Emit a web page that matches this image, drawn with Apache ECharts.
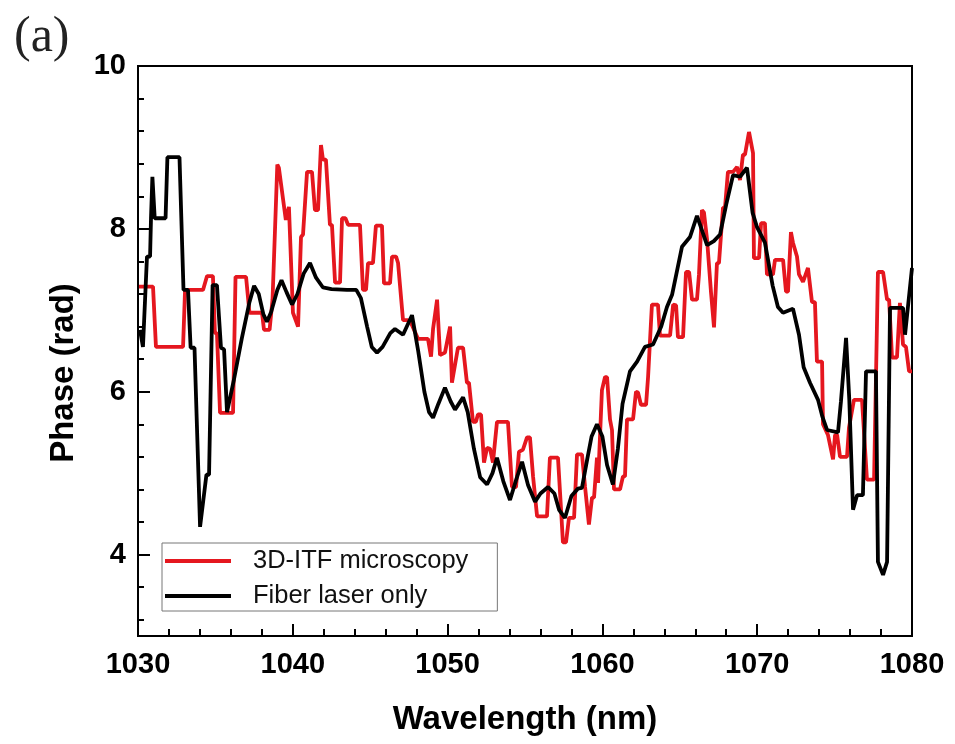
<!DOCTYPE html>
<html>
<head>
<meta charset="utf-8">
<script src="https://cdn.jsdelivr.net/npm/echarts@6/dist/echarts.min.js"></script>
<style>
html,body{margin:0;padding:0;background:#fff;}
#chart{width:955px;height:744px;}
</style>
</head>
<body>
<div id="chart"></div>
<script>
const panelLabel = '(a)';
const xName = 'Wavelength (nm)';
const yName = 'Phase (rad)';
const seriesNames = ['3D-ITF microscopy', 'Fiber laser only'];
const xTicks = [1030, 1040, 1050, 1060, 1070, 1080];
const yTickLabels = [4, 6, 8, 10];

const redX = [1030.06,1030.97,1031.16,1032.91,1033.04,1034.20,1034.46,1034.84,1034.97,1035.10,1035.30,1036.14,1036.30,1036.98,1037.20,1038.01,1038.14,1038.50,1038.69,1039.00,1039.10,1039.55,1039.75,1040.01,1040.34,1040.53,1040.66,1040.92,1041.24,1041.43,1041.63,1041.82,1041.95,1042.14,1042.40,1042.53,1042.73,1043.05,1043.18,1043.40,1043.57,1044.34,1044.53,1044.73,1044.86,1045.18,1045.37,1045.76,1045.89,1046.28,1046.41,1046.67,1046.80,1047.12,1047.38,1047.60,1048.09,1048.73,1048.93,1049.06,1049.32,1049.51,1049.83,1050.16,1050.28,1050.67,1051.00,1051.25,1051.38,1051.64,1051.83,1051.96,1052.16,1052.35,1052.55,1052.74,1052.93,1053.19,1053.90,1054.16,1054.42,1054.61,1054.87,1055.13,1055.32,1055.52,1055.78,1056.42,1056.61,1057.13,1057.33,1057.45,1057.65,1057.84,1058.17,1058.36,1058.68,1058.88,1059.13,1059.33,1059.46,1059.65,1059.72,1059.97,1060.17,1060.30,1060.49,1060.62,1060.75,1061.14,1061.33,1061.46,1061.59,1061.98,1062.17,1062.30,1062.49,1062.82,1062.95,1063.20,1063.59,1063.72,1064.37,1064.57,1064.76,1064.88,1065.21,1065.40,1065.60,1065.79,1066.11,1066.24,1066.43,1066.56,1066.76,1067.02,1067.21,1067.40,1067.53,1067.79,1067.92,1068.11,1068.44,1068.70,1068.89,1069.08,1069.21,1069.47,1069.73,1069.79,1070.12,1070.25,1070.50,1070.63,1071.02,1071.15,1071.67,1071.86,1071.99,1072.18,1072.31,1072.57,1072.70,1072.96,1073.28,1073.54,1073.73,1073.86,1074.19,1074.25,1074.57,1074.90,1075.03,1075.16,1075.35,1075.80,1075.93,1076.25,1076.77,1077.09,1077.55,1077.80,1078.13,1078.39,1078.52,1078.71,1079.03,1079.22,1079.42,1079.61,1079.81,1080.00];
const redY = [7.29,7.29,6.55,6.55,7.25,7.25,7.42,7.42,6.72,6.72,5.74,5.74,7.41,7.41,6.97,6.97,6.76,6.76,7.13,8.79,8.75,8.11,8.27,6.97,6.80,7.90,7.93,8.70,8.70,8.23,8.23,9.03,8.85,8.85,8.05,8.05,7.34,7.34,8.13,8.13,8.05,8.05,7.25,7.25,7.58,7.58,8.04,8.04,7.33,7.33,7.66,7.66,7.58,6.88,6.88,6.86,6.65,6.65,6.43,6.77,7.13,6.45,6.48,6.80,6.11,6.54,6.54,6.11,6.11,5.63,5.63,5.72,5.72,5.13,5.31,5.30,5.13,5.63,5.63,4.83,4.83,5.26,5.29,5.44,5.44,4.96,4.47,4.47,5.19,5.19,4.55,4.15,4.15,4.45,4.45,5.23,5.23,4.83,4.37,4.70,4.70,5.19,4.88,6.02,6.18,6.18,5.66,5.53,4.80,4.80,4.96,4.96,5.66,5.66,6.00,5.99,5.84,5.84,6.18,7.07,7.07,6.69,6.69,7.07,7.06,6.67,6.67,7.47,7.47,7.13,7.13,7.44,8.23,8.20,7.87,7.21,6.79,7.58,7.58,8.26,8.26,8.70,8.70,8.76,8.60,8.91,8.91,9.19,8.93,7.64,7.64,8.07,8.07,7.44,7.44,7.62,7.62,7.23,7.23,7.96,7.83,7.66,7.44,7.35,7.52,7.10,7.10,6.37,6.37,5.60,5.47,5.17,5.47,5.47,5.20,5.20,5.56,5.90,5.90,4.92,4.92,7.47,7.47,7.13,7.13,6.42,6.42,7.09,6.58,6.55,6.25,6.25];

const blackX = [1030.13,1030.32,1030.58,1030.78,1030.84,1030.93,1031.08,1031.78,1031.90,1032.68,1032.94,1033.23,1033.40,1033.65,1034.01,1034.42,1034.59,1034.82,1035.10,1035.36,1035.56,1035.75,1036.20,1036.70,1037.20,1037.50,1037.80,1038.10,1038.33,1038.60,1039.00,1039.27,1039.60,1039.95,1040.30,1040.70,1041.11,1041.50,1041.95,1042.50,1043.50,1044.10,1044.40,1044.80,1045.10,1045.44,1045.80,1046.30,1046.60,1047.12,1047.70,1048.10,1048.50,1048.80,1049.06,1049.40,1049.83,1050.20,1050.48,1051.00,1051.30,1051.70,1052.10,1052.55,1052.90,1053.19,1053.60,1054.03,1054.40,1054.81,1055.20,1055.65,1056.00,1056.49,1056.90,1057.20,1057.58,1058.00,1058.42,1058.68,1059.00,1059.30,1059.65,1060.00,1060.30,1060.68,1061.00,1061.30,1061.78,1062.24,1062.75,1063.27,1063.80,1064.17,1064.50,1065.14,1065.66,1066.11,1066.40,1066.76,1067.20,1067.60,1068.00,1068.44,1068.89,1069.34,1069.70,1069.99,1070.50,1071.00,1071.34,1071.67,1072.31,1072.70,1073.00,1073.41,1073.93,1074.20,1074.51,1075.22,1075.41,1075.74,1075.95,1076.19,1076.45,1076.83,1077.03,1077.67,1077.80,1078.13,1078.39,1078.58,1079.42,1079.55,1080.00];
const blackY = [6.76,6.55,7.66,7.66,8.13,8.64,8.13,8.13,8.88,8.88,7.25,7.25,6.54,6.54,4.34,4.98,4.98,7.31,7.31,6.54,6.52,5.75,6.15,6.65,7.10,7.30,7.20,6.95,6.86,6.98,7.25,7.37,7.22,7.07,7.20,7.45,7.58,7.40,7.28,7.26,7.25,7.25,7.15,6.80,6.55,6.48,6.55,6.72,6.77,6.70,6.94,6.50,6.00,5.75,5.68,5.85,6.05,5.88,5.78,5.93,5.75,5.30,4.95,4.86,5.00,5.19,4.90,4.67,4.90,5.14,4.85,4.65,4.75,4.83,4.75,4.55,4.45,4.72,4.81,4.82,5.15,5.45,5.60,5.45,5.10,4.86,5.30,5.85,6.25,6.37,6.55,6.58,6.80,7.04,7.19,7.78,7.90,8.16,8.00,7.80,7.85,7.93,8.30,8.66,8.64,8.75,8.20,8.02,7.83,7.30,7.04,6.97,7.02,6.70,6.30,6.11,5.90,5.70,5.53,5.50,5.88,6.66,5.90,4.55,4.73,4.73,6.25,6.25,3.91,3.75,3.91,7.03,7.03,6.70,7.52];

const redData = redX.map((x, i) => [x, redY[i]]);
const blackData = blackX.map((x, i) => [x, blackY[i]]);

const chart = echarts.init(document.getElementById('chart'), null, {renderer: 'canvas'});
const boldFont = 'Liberation Sans';
chart.setOption({
  backgroundColor: '#fff',
  animation: false,
  title: {
    text: panelLabel,
    left: 9, top: 8,
    textStyle: {fontFamily: 'Liberation Serif', fontWeight: 'normal', fontSize: 50, color: '#222'}
  },
  grid: {
    left: 138, right: 43, top: 66, bottom: 108,
    show: true, borderColor: '#000', borderWidth: 2, backgroundColor: 'transparent'
  },
  legend: {
    orient: 'vertical',
    left: 162, top: 543,
    data: seriesNames.map(n => ({name: n, icon: 'rect'})),
    itemWidth: 66, itemHeight: 4, itemGap: 9,
    padding: [5, 29, 2, 3],
    borderColor: '#777', borderWidth: 1,
    textStyle: {fontFamily: 'Liberation Sans', fontSize: 25.5, color: '#111', lineHeight: 24, padding: [0, 0, 0, 17]}
  },
  xAxis: {
    type: 'value', min: 1030, max: 1080, interval: 10,
    name: xName, nameLocation: 'middle', nameGap: 67,
    nameTextStyle: {fontFamily: boldFont, fontWeight: 'bold', fontSize: 33, color: '#000'},
    axisLine: {show: true, onZero: false, lineStyle: {color: '#000', width: 2}},
    axisTick: {show: true, inside: true, length: 12, lineStyle: {color: '#000', width: 2}},
    minorTick: {show: true, splitNumber: 5, length: 7, lineStyle: {color: '#000', width: 2}},
    splitLine: {show: false}, minorSplitLine: {show: false},
    axisLabel: {fontFamily: boldFont, fontWeight: 'bold', fontSize: 29, color: '#000', margin: 14,
      formatter: v => (xTicks.indexOf(v) >= 0 ? String(v) : '')}
  },
  yAxis: [{
    type: 'value', min: 3, max: 10, minInterval: 2, maxInterval: 2, splitNumber: 4,
    name: yName, nameLocation: 'middle', nameGap: 58,
    nameTextStyle: {fontFamily: boldFont, fontWeight: 'bold', fontSize: 33, color: '#000', padding: [0, 44, 0, 0]},
    axisLine: {show: true, onZero: false, lineStyle: {color: '#000', width: 2}},
    axisTick: {show: true, inside: true, length: 12, lineStyle: {color: '#000', width: 2}},
    splitLine: {show: false},
    axisLabel: {fontFamily: boldFont, fontWeight: 'bold', fontSize: 29, color: '#000', margin: 12,
      showMinLabel: false,
      formatter: v => (yTickLabels.indexOf(Math.round(v * 1000) / 1000) >= 0 ? String(Math.round(v)) : '')}
  }, {
    type: 'value', min: 3, max: 10, minInterval: 0.4, maxInterval: 0.4, position: 'left', offset: 0,
    axisLine: {show: false},
    axisTick: {show: true, inside: true, length: 6, lineStyle: {color: '#000', width: 2}},
    axisLabel: {show: false},
    splitLine: {show: false}
  }],
  series: [{
    name: seriesNames[0], type: 'line', data: redData, yAxisIndex: 0,
    symbol: 'none', showSymbol: false, smooth: false,
    lineStyle: {color: '#e5171f', width: 3.8}, itemStyle: {color: '#e5171f'}, z: 2
  }, {
    name: seriesNames[1], type: 'line', data: blackData, yAxisIndex: 0,
    symbol: 'none', showSymbol: false, smooth: false,
    lineStyle: {color: '#000', width: 3.8}, itemStyle: {color: '#000'}, z: 3
  }]
});
</script>
</body>
</html>
